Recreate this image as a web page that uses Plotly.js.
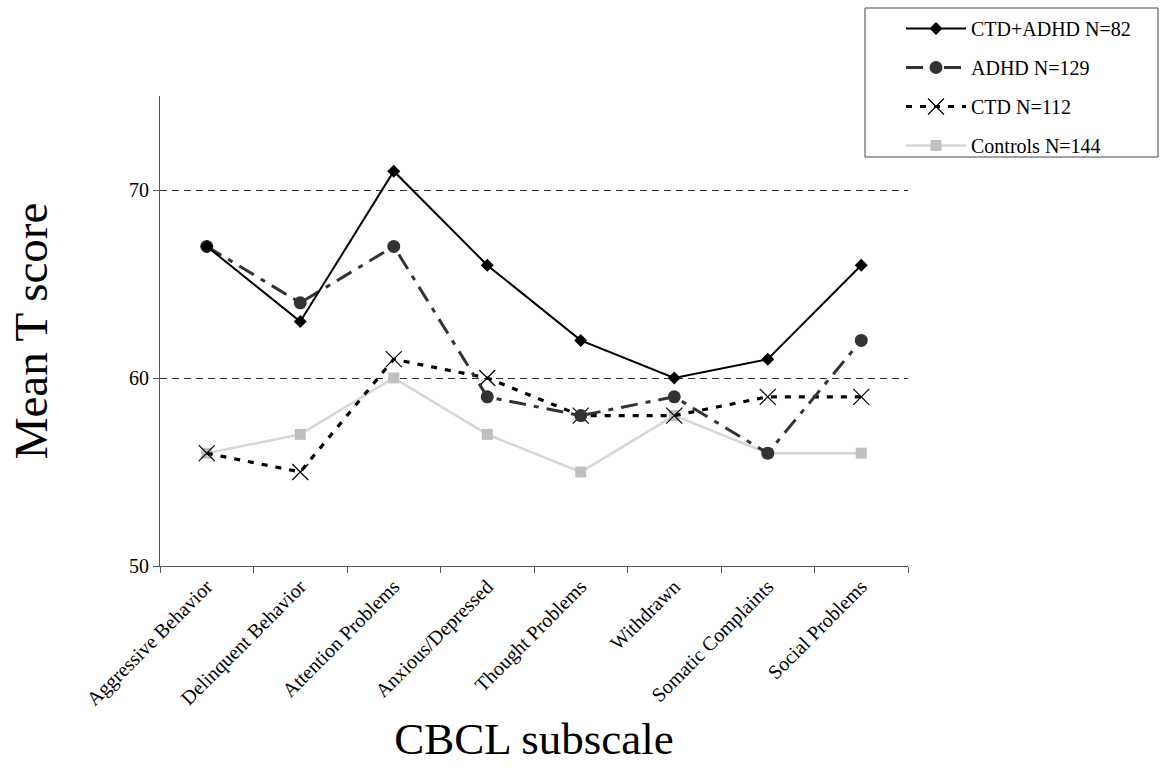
<!DOCTYPE html>
<html>
<head>
<meta charset="utf-8">
<script src="https://cdn.plot.ly/plotly-3.0.1.min.js"></script>
<style>html,body{margin:0;padding:0;background:#fff;}#chart{width:1161px;height:778px;}</style>
</head>
<body>
<div id="chart"></div>
<script>
const categories = ["Aggressive Behavior","Delinquent Behavior","Attention Problems","Anxious/Depressed","Thought Problems","Withdrawn","Somatic Complaints","Social Problems"];
const ctdAdhd = [67, 63, 71, 66, 62, 60, 61, 66];
const adhd = [67, 64, 67, 59, 58, 59, 56, 62];
const ctd = [56, 55, 61, 60, 58, 58, 59, 59];
const controls = [56, 57, 60, 57, 55, 58, 56, 56];
const seriesNames = ["CTD+ADHD N=82", "ADHD N=129", "CTD N=112", "Controls N=144"];
const yTicks = [50, 60, 70];

const font = "Liberation Serif, Times New Roman, serif";
const W = 1161, H = 778, ML = 160, MR = 253, MT = 96, MB = 212;
const PW = W - ML - MR, PH = H - MT - MB;
const px2x = p => (p - ML) / PW;
const px2y = p => (H - MB - p) / PH;

const traces = [
  {x: categories, y: controls, name: seriesNames[3], mode: "lines+markers", legendgroup: "d", legendrank: 4,
   line: {color: "#d6d6d6", width: 2.5}, marker: {symbol: "square", size: 11, color: "#c0c0c0"}},
  {x: categories, y: ctd, name: seriesNames[2], mode: "lines+markers", legendgroup: "c", legendrank: 3,
   line: {color: "#000", width: 3.2, dash: "6px,8px"}, marker: {symbol: "x-thin-open", size: 16, line: {color: "#000", width: 1.2}}},
  {x: categories, y: adhd, name: seriesNames[1], mode: "lines+markers", legendgroup: "b", legendrank: 2,
   line: {color: "#333", width: 3, dash: "17px,8px,5px,8px"}, marker: {symbol: "circle", size: 13, color: "#333"}},
  {x: categories, y: ctdAdhd, name: seriesNames[0], mode: "lines+markers", legendgroup: "a", legendrank: 1,
   line: {color: "#000", width: 2}, marker: {symbol: "diamond", size: 10, color: "#000"}}
];

const layout = {
  width: W, height: H,
  margin: {l: ML, r: MR, t: MT, b: MB, autoexpand: false},
  paper_bgcolor: "#fff", plot_bgcolor: "#fff",
  font: {family: font, color: "#000", size: 20},
  showlegend: true,
  legend: {
    x: px2x(901), y: px2y(9), xanchor: "left", yanchor: "top",
    borderwidth: 0, bgcolor: "rgba(0,0,0,0)",
    font: {family: font, size: 20, color: "#000"},
    traceorder: "grouped", tracegroupgap: 10,
    itemwidth: 60
  },
  shapes: [
    {type: "rect", xref: "paper", yref: "paper", x0: px2x(865), x1: px2x(1158), y0: px2y(157), y1: px2y(8),
     line: {color: "#444", width: 1}, fillcolor: "rgba(0,0,0,0)", layer: "below"}
  ],
  xaxis: {
    type: "category",
    range: [-0.5, 7.5],
    showline: true, linecolor: "#555", linewidth: 1,
    ticks: "outside", ticklen: 6, tickcolor: "#555", tickson: "boundaries",
    tickangle: -45,
    tickfont: {family: font, size: 20, color: "#000"},
    showgrid: false, zeroline: false,
    title: {text: "CBCL subscale", font: {family: font, size: 45, color: "#000"}, standoff: 12}
  },
  yaxis: {
    range: [50, 75],
    tickvals: yTicks,
    showline: true, linecolor: "#555", linewidth: 1,
    ticks: "outside", ticklen: 6, tickcolor: "#555",
    tickfont: {family: font, size: 20, color: "#000"},
    showgrid: true, gridcolor: "#333", gridwidth: 1, griddash: "7px,5px",
    zeroline: false,
    title: {text: "Mean T score", font: {family: font, size: 47, color: "#000"}, standoff: 66}
  }
};

Plotly.newPlot("chart", traces, layout, {displayModeBar: false, staticPlot: true});
</script>
</body>
</html>
